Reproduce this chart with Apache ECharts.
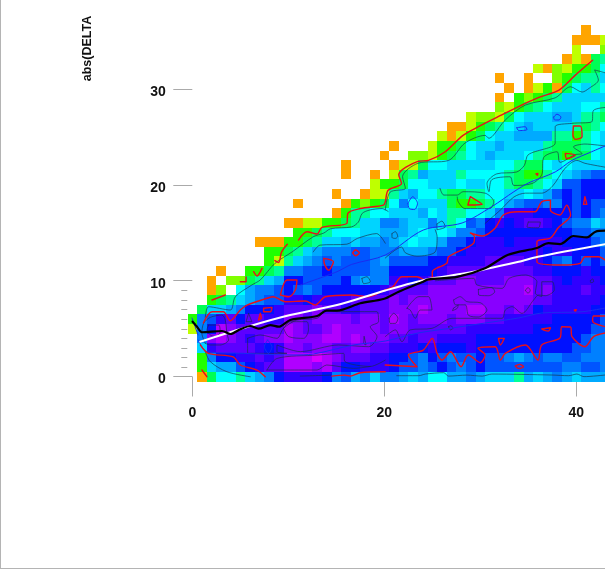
<!DOCTYPE html>
<html><head><meta charset="utf-8">
<style>html,body{margin:0;padding:0;background:#fff}
#frame{position:absolute;left:0;top:0;width:604px;height:568px;border-left:1px solid #b4b4b4;border-bottom:1px solid #b4b4b4}
#chart{position:absolute;left:0;top:0;width:605px;height:569px}</style>
<script src="https://cdn.jsdelivr.net/npm/echarts@6/dist/echarts.min.js"></script>
</head><body><div id="frame"></div><div id="chart"></div>
<script>
const yAxisTitle = "abs(DELTA";
const minorYTicks = [1,2,3,4,5,6,7,8,9];
// first column held by each row of cells
const rowStartColumn = [1,1,1,1,1,0,0,1,2,2,2,3,8,8,7,11,10,15,11,15,19,16,16,20,21,26,27,29,32,32,33,32,36,39,40,40,41];
// density level of each cell, bottom row first (0 = empty cell)
const heatRows = [
[1,5,7,7,6,8,9,10,12,13,13,13,13,12,10,11,9,10,8,10,10,9,8,9,7,7,9,9,10,9,8,8,8,6,9,8,9,10,9,8,9,9,9],
[4,8,9,9,11,12,13,14,14,16,16,16,15,16,14,12,12,13,13,13,12,11,11,10,11,12,11,10,11,12,11,11,11,11,11,11,11,11,10,10,11,11,10],
[4,10,12,12,13,13,14,13,14,16,16,16,17,16,15,14,14,14,13,13,12,12,11,10,12,11,10,11,11,12,11,11,10,9,10,11,10,10,11,11,10,10,10],
[8,13,14,14,14,14,13,12,13,15,15,14,15,15,14,14,15,15,14,14,13,13,13,12,13,12,12,12,13,12,12,12,12,12,12,12,12,12,12,11,11,10,10],
[10,15,16,15,14,13,14,15,15,16,15,15,15,16,16,15,16,15,15,15,14,14,13,14,14,13,13,13,13,12,12,12,12,12,12,12,12,12,12,12,11,10,10],
[2,10,12,16,15,14,14,14,14,14,16,15,14,14,15,16,15,15,15,15,14,15,15,14,14,14,14,14,14,13,13,13,13,13,13,13,12,12,12,12,12,12,11,11],
[4,10,11,13,14,12,14,14,13,13,15,15,14,15,15,15,15,14,15,15,14,16,15,14,15,15,15,14,15,15,15,14,14,13,13,13,13,13,12,12,12,12,12,11],
[5,8,8,9,10,12,12,12,13,14,14,14,15,14,14,13,13,14,14,14,15,15,15,16,15,15,15,15,16,16,15,15,14,15,14,12,13,13,13,13,13,12,12],
[4,5,6,8,9,10,11,11,13,13,12,13,13,13,13,14,14,14,14,15,14,15,15,15,15,15,15,15,15,15,15,15,15,15,14,14,13,13,13,13,13,12],
[1,3,0,7,9,10,10,11,12,11,10,11,12,12,12,12,12,12,13,14,14,14,14,15,15,15,15,15,15,15,15,15,15,16,14,15,13,13,13,14,13,13],
[1,0,3,3,5,6,8,9,12,12,11,11,11,11,12,10,9,10,10,13,13,12,13,14,14,14,15,15,14,14,14,15,15,15,14,14,13,12,13,13,13,12],
[1,0,0,4,4,5,6,10,10,11,11,12,11,11,11,11,10,10,12,12,12,12,12,13,14,14,14,14,14,14,14,14,14,13,13,12,12,12,13,12,12],
[4,2,6,8,9,10,11,10,11,11,11,10,9,11,11,11,11,12,12,13,13,13,13,14,14,14,14,13,13,12,11,10,12,11,12,11],
[4,4,5,6,8,9,10,10,10,11,11,10,10,10,9,9,9,10,11,11,12,13,13,13,13,13,13,13,13,12,13,13,12,12,12,11],
[1,1,1,4,4,5,6,8,8,9,8,9,9,10,9,8,7,8,8,9,11,11,12,13,13,13,12,13,13,13,13,13,12,12,12,11,10],
[4,4,5,6,7,7,7,8,8,9,9,9,8,7,8,7,8,10,10,11,12,12,12,12,12,12,12,12,12,11,11,10,10],
[1,1,2,2,4,4,5,6,8,8,10,10,9,8,8,10,8,6,7,11,10,12,13,12,13,14,14,13,12,11,10,10,8,9],
[1,4,6,6,7,7,8,8,8,9,7,8,6,6,7,7,8,10,13,13,13,12,12,12,12,11,12,11,10],
[1,0,0,0,0,1,4,3,4,5,7,10,7,8,8,8,5,4,4,5,6,7,9,10,11,11,10,10,12,11,12,11,11],
[1,0,0,1,2,2,6,8,9,7,7,6,5,5,6,6,7,7,8,8,7,8,9,11,12,11,12,12,12],
[2,4,4,5,7,7,8,8,8,7,8,8,7,7,6,5,5,6,7,8,11,11,12,12,12],
[1,0,0,1,0,2,5,6,9,8,8,8,6,7,7,7,7,6,5,4,4,6,7,8,9,10,11,11],
[1,0,0,0,0,1,2,2,5,7,7,8,8,8,8,8,7,7,6,5,5,7,8,7,8,8,8,8],
[1,0,0,3,3,2,4,5,6,7,8,9,8,8,8,7,6,5,5,4,5,5,7,8],
[1,0,0,0,2,4,4,5,7,8,8,9,8,8,8,8,6,5,5,5,6,7,8],
[2,1,2,4,5,7,8,8,9,9,9,9,6,6,4,6,7,8],
[1,1,2,4,5,6,7,8,9,8,8,8,8,6,5,6,7],
[2,3,3,2,5,7,8,8,8,9,9,8,6,6,5],
[3,2,4,5,6,7,8,8,8,7,7,6],
[1,0,4,3,4,5,6,8,8,8,8,8],
[1,0,1,2,4,1,5,7,8,6,7],
[1,0,0,1,0,0,3,4,5,6,6,8],
[2,1,3,2,4,4,5,7],
[1,2,1,5,6],
[2,0,0,3],
[1,1,1,2],
[1]
];
const blackCurve = [[0.03,5.85],[0.49,5.33],[1,4.75],[3.1,4.88],[3.96,4.57],[5,5.06],[6.04,5.4],[6.9,5.12],[8.13,5.5],[9,5.33],[10.2,6.02],[13,6.44],[14,6.99],[15.07,6.99],[17.5,7.76],[19.9,8.2],[21.5,8.96],[23.9,9.94],[24.6,10.25],[27.6,10.5],[30.5,11.4],[32.9,12.8],[35.9,13.5],[37.1,14],[38.3,13.9],[39.7,14.75],[41.1,14.6],[42,15.2],[43,15.3]];
const whiteCurve = [[0.83,3.77],[6.04,5.4],[10.2,6.54],[15.07,7.58],[20.1,9.09],[24.6,10.28],[28.4,10.87],[34,12.08],[36,12.6],[43,13.9]];
const blueCurves = [
[[11.25,9.66],[15.07,11.04],[16.6,11.8],[20.1,12.77],[24.06,15.37],[28.1,16.1],[31.2,17.8],[33.5,19.35],[35,20.25],[37.8,21.4],[39.55,22.6],[41.6,23.5],[43,24.1]],
[[0.63,3.95],[1.53,2.73],[5.35,2.56],[10.5,2.39],[12.6,2.49],[16.8,3.43],[20.1,3.84],[23.5,4.67],[27.05,5.19],[30.5,5.71],[33.96,6.23],[36.4,6.75],[40.6,6.88],[43,7.27]],
[[-0.03,6.23],[0.6,4.47]],
[[22.47,18.14],[22.95,18.83],[23.46,18.14],[23.15,17.5],[22.6,17.6],[22.47,18.14]],
[[37.64,27.1],[37.98,27.4],[38.4,27.1],[38.2,26.8],[37.74,26.8],[37.64,27.1]],
[[33.8,26],[34.68,26.1],[34.86,25.8],[34,25.7],[33.8,26]],
[[7.84,3.95],[8.3,3.25],[7.95,2.56],[7.5,3.25],[7.84,3.95]]
];
const redCurves = [
[[11.06,14.33],[11.95,15.19],[12.99,14.95],[13.5,15.65],[16.1,16.06],[16.2,17.1],[17.5,17.6],[19.9,17.96],[20.1,18.3],[20.4,19.5],[21.8,20.2],[21.5,21.1],[23.5,22.5],[24.6,22.6],[26.35,23.5],[28.2,25.2],[29.8,26.1],[32.6,27.5],[34.3,28.35],[36.1,29.15],[38.2,29.9],[39.9,31.46],[41.7,33]],
[[1.15,5.71],[2.05,6.88],[3.23,6.88],[3.96,5.95],[5,7.06],[5.7,7.58],[7.78,8.28],[8.44,8.44],[9.69,7.92],[11.77,8],[12.8,7.58],[13.85,8.44],[16.6,8.62],[18.3,8.44],[20.1,9.14],[20.9,9.48],[21.84,10.52],[23.4,10.52],[24.3,10.18],[25,10.28],[25,11.04],[26.5,11.91],[26.7,12.6],[29.3,13.99],[29.4,14.64],[28.96,15.06],[30.2,14.75],[31.56,15.58],[32.4,16.93],[33.96,17.27],[35.7,17.27],[36.4,18.31],[37.3,18.48],[37.3,17.45],[38.3,16.93],[39,17.96],[39.4,16.93],[38.1,15.58],[37.3,14.54],[35.9,14.15],[35.9,12.08],[38.5,11.73],[40.4,11.91],[40.9,12.6],[42.3,12.6],[43,12.25]],
[[0.83,3.43],[1.67,2.56],[4.27,2.2],[5,1.35],[6.74,0.83],[7.6,0.13]],
[[14.55,0.2],[15.9,0.3],[16.46,0.2],[17.5,0.55],[20.1,0.65]],
[[20.1,1.35],[23.4,1.17],[22.5,2.39],[24.06,2.9],[25,4.12],[25.5,2.56],[26,1.87],[26.9,2.73],[28,1.17],[28.75,2.39],[30,1.59],[30.5,2.39],[29.76,3.08],[31.56,3.25],[32.1,1.87],[32.6,2.56],[34.7,3.43],[36,1.87],[36.4,3.43],[38.3,4.15],[38.5,5.33],[39.4,5.3],[39.55,4.29],[40.9,3.25],[41.8,4.29],[43,4.67]],
[[13.7,12.43],[14.7,12.08],[14.2,11.2],[13.75,11.9],[13.7,12.43]],
[[9.17,8.62],[9.86,10.18],[10.9,10.18],[10.73,9.14],[10.03,8.44],[9.17,8.62]],
[[7.43,7.24],[8.3,7.34],[8.13,6.88],[7.43,6.88],[7.43,7.24]],
[[7.08,6.72],[6.9,6.02],[7.2,6.23],[7.08,6.72]],
[[16.7,13],[17,13.3],[17.4,13],[17,12.7],[16.7,13]],
[[8.6,12.2],[9,12],[9.3,13.1],[9.9,13.9]],
[[5,10],[5.6,10],[5.6,10.5]],
[[6.39,11.04],[6.74,10.6],[7.26,11.39]],
[[2.05,8.1],[3.44,8.62]],
[[1,0.83],[1.53,0.13]],
[[31.9,4.12],[32.5,4.12],[32.1,3.43],[31.9,4.12]],
[[36.4,5.09],[37.3,5.22],[37.1,4.88],[36.6,4.98],[36.4,5.09]],
[[33.65,1.25],[34.1,1.42],[34.5,1.17],[34,1],[33.65,1.25]],
[[39.8,7.06],[40,7.1],[39.9,6.95],[39.8,7.06]],
[[43,6.44],[41.8,6.44],[41.7,5.9],[43,5.33]],
[[28.96,18.83],[30.2,18.03],[28.7,17.97],[28.96,18.83]],
[[39.7,26.17],[40.4,26.17],[40.6,25.06],[39.9,24.79],[39.65,25.24],[39.7,26.17]],
[[38.85,23.33],[39.9,23.16],[39,22.8],[38.85,23.33]],
[[40.9,18.83],[41.1,18.03],[40.75,18.03],[40.9,18.83]],
[[35.8,21.2],[36,21.25],[35.95,21.05],[35.8,21.2]]
];
const darkCurves = [
[[20.1,17.45],[20.6,19.3],[22.2,19.7],[21.9,20.9],[23.5,22.3],[26.7,22.6],[28.4,24.4],[30.5,25.2],[30.9,24.9],[31.35,25.2],[32.6,26.8],[34.7,28.35],[37.8,29.1],[39.4,30.25],[40.6,29.7],[41.35,30.1],[42.3,30.95],[41.9,32],[43,31.7]],
[[6.04,0.13],[3.6,0.65],[1.88,1.69],[1.35,2.73]],
[[1.35,6.3],[1.7,7.4],[3.96,7.06],[4.48,8.44],[6.2,9.66],[7.1,10.2],[8.6,11.9],[10.4,13.1],[12.6,14.67],[13.7,15.06],[14.4,15.5],[16.6,15.7],[17.3,16.2],[17.7,17.1],[18.5,17.45],[19.76,17.6],[20.4,17.3]],
[[12.6,13.1],[13.3,13.8],[16.1,13.9],[17.2,14.5],[19.2,15],[20.1,14]],
[[20.1,12.46],[21.8,13.6],[22.2,13],[23.4,12.66],[25.3,13.1],[25.5,14.7],[25.3,15.4]],
[[25.8,19.7],[26.2,19],[27.6,19],[28.2,19.35],[30.5,19.2],[31.4,18.3],[31,17.6],[28.4,17.6],[27.7,18.3],[27.6,18.8]],
[[43,28.1],[41.8,27.8],[41.6,26.6],[39.55,26.45],[37.8,26.1],[37.8,24.4],[35,23.2],[34.6,22.1],[33.8,21.4],[31.7,21.2],[30.7,20.2],[30.9,19.35],[31.2,20.6],[33.1,20.9],[33.5,20],[35.4,20.2],[36.4,21.1],[36.6,22.9],[38,23.5],[38.3,22.4],[39.9,23.2],[40.6,23.3],[39.7,24],[40.9,24.3],[43,24.1]],
[[30.5,16.06],[32.1,17.45],[33.5,18.8],[34.7,19.2],[36.4,19.2],[37.5,19.9],[38.85,21.8],[40.06,22.6],[40.9,22.3],[43,21.9]],
[[1.35,3.6],[1,4.64],[1.18,5.68],[1.88,6.3],[3.1,6.54],[3.44,6],[3.6,4.64],[3.78,3.95],[2.9,3.43],[1.88,3.43],[1.35,3.6]],
[[1.7,5.5],[2.74,5.5],[2.9,4.8],[2.4,4.3],[1.88,4.47],[1.53,4.98],[1.7,5.5]],
[[5.87,6.72],[6.2,5.85],[5.6,5.85],[5.87,6.72]],
[[5.76,4.12],[7.08,4.47],[8.82,4.12],[9.5,5.16],[10.9,6.02],[12.99,6.2],[14.03,7.06],[15.07,6.89],[19.24,6.89],[19.4,5.85],[18.54,5.33],[19.24,4.3],[18.37,3.25],[15.24,3.43],[11.25,2.74],[8.82,3.43],[8.82,2.74],[9.86,2.56],[5.76,2.56],[5.76,4.12]],
[[9.5,5.16],[10.2,5.85],[11.94,5.85],[12.1,5],[11.6,4.12],[10.03,4.3],[9.5,5.16]],
[[17.9,4.3],[18.1,3.43],[17.85,3.6],[17.9,4.3]],
[[7.78,0.83],[8.82,2.03],[12.99,2.38],[15.76,2.56],[15.9,1.7],[18.54,1.2],[20.1,1.86]],
[[7.78,0.83],[12.99,0.83],[14,1.35],[16.8,1],[18.54,1.2]],
[[11.25,0.2],[14.4,0.3]],
[[21.3,0.24],[23.6,0.24],[24.27,0.41],[26.18,0.55],[26.7,0.2],[28.6,0.3],[30.2,0.2],[31.2,0.41],[37.46,0.31],[39.2,0.24],[40.06,0.41],[40.8,0.14],[43,0.31]],
[[25.31,10.1],[29.3,10.35],[29.65,9.66],[32.26,9.31],[33,10.35],[34.7,10.7],[35.9,10],[35.73,8.8],[36.4,8.45],[36.4,10],[37.5,10],[37.7,9.14],[36.77,8.55],[36.07,8.62],[35.55,8.1],[34.34,6.71],[33.3,7.41],[32.6,7.06],[32.26,6.2],[27.05,6.2],[24.97,5.16],[22.7,5],[21.84,3.77],[21.15,5],[20.1,4.3]],
[[22.36,7.24],[23.6,8.45],[24.6,8.45],[24.97,7.06],[23.75,7.06],[23.23,6.2],[22.7,7.06],[22.36,7.24]],
[[27.22,8.1],[27.9,8.45],[28.6,7.93],[29.99,7.82],[30.69,7.06],[29.8,6.34],[28.78,6.5],[28.44,7.6],[27.4,7.6],[27.22,8.1]],
[[29.8,9.2],[31.2,9.4],[31.5,8.96],[30.87,8.55],[29.83,8.62],[29.8,9.2]],
[[27.2,7.24],[27.7,7.6],[27.6,7.24],[27.1,7],[27.2,7.24]],
[[20.52,6.2],[20.97,6.72],[21.42,6.2],[21.15,5.67],[20.6,5.67],[20.52,6.2]],
[[34.7,9.1],[34.97,9.4],[35.2,9.1],[34.97,8.8],[34.7,9.1]],
[[26.7,5.33],[26.94,5.43],[27.15,5.16],[26.87,5],[26.7,5.33]],
[[41.47,10.1],[41.7,10.3],[41.8,10],[41.5,9.9],[41.47,10.1]],
[[20.8,15],[21.15,15.2],[21.4,14.7],[21.15,14.5],[20.8,14.6],[20.8,15]],
[[17.67,10.35],[18.2,10.52],[18.54,10],[17.85,9.8],[17.67,10.35]],
[[35,16.2],[36.25,16.2],[36.07,15.6],[34.86,15.7],[35,16.2]],
[[25.49,16],[26,16.3],[26.35,15.7],[25.49,15.4],[25.49,16]]
];

const levelColors = ['#ffffff','#ffa500','#bfff00','#80ff00','#20ff00','#00ff55','#00ff99','#00ffff','#00d4ff','#00aaff','#0080ff','#0055ff','#0011ff','#3000ff','#5c00ff','#8800ff','#b000ff','#d800ff'];
const rowBottom = -0.543, rowHeight = 1.0054;     // bin edges on the y axis
const readY = y => y * 1.005 - 0.157;             // curves were read against the bin grid

const cells = [];
heatRows.forEach((vals, r) => vals.forEach((v, i) => { if (v > 0) cells.push([rowStartColumn[r] + i, r, v]); }));

const font = '"Liberation Sans", Arial, sans-serif';
const chart = echarts.init(document.getElementById('chart'), null, {renderer:'canvas'});
const lineSeries = (curves, color, width, z) => curves.map(c => ({
  type:'line', data:c.map(p => [p[0], readY(p[1])]), showSymbol:false, symbol:'none', clip:false, silent:true, z:z,
  smooth:0.3, lineStyle:{color:color, width:width, join:'round', cap:'round'}
}));
chart.setOption({
  animation:false,
  backgroundColor:'transparent',
  grid:{left:192.3, top:-6.7, width:576, height:383.2, containLabel:false, outerBoundsMode:'none'},
  xAxis:{type:'value', min:0, max:60, interval:20, offset:4.5, splitLine:{show:false}, axisLine:{show:false},
    axisTick:{length:20, lineStyle:{color:'#aaa', width:1}},
    axisLabel:{margin:25, fontFamily:font, fontWeight:'bold', fontSize:14, color:'#111', hideOverlap:false}},
  yAxis:{type:'value', min:0, max:40, interval:10, offset:4.5, splitLine:{show:false}, axisLine:{show:false},
    axisTick:{length:19, lineStyle:{color:'#aaa', width:1}},
    axisLabel:{margin:22, fontFamily:font, fontWeight:'bold', fontSize:14, color:'#111', verticalAlign:'top', lineHeight:6}},
  graphic:[{type:'text', x:88, y:48.5, rotation:Math.PI/2, style:{text:yAxisTitle, align:'center', verticalAlign:'middle', font:'bold 12.5px '+font, fill:'#111'}}],
  series:[
    {type:'custom', clip:false, silent:true, z:1, encode:{x:0,y:1}, data:cells,
     renderItem:(p,api)=>{
       const c=api.value(0), r=api.value(1);
       const a=api.coord([c-0.5,rowBottom+rowHeight*(r+1)]), b=api.coord([c+0.5,rowBottom+rowHeight*r]);
       const x0=Math.round(a[0]), y0=Math.round(a[1]), x1=Math.round(b[0]), y1=Math.round(b[1]);
       return {type:'rect', shape:{x:x0,y:y0,width:x1-x0,height:y1-y0}, style:{fill:levelColors[api.value(2)]}};
     }},
    {type:'custom', clip:false, silent:true, z:1, encode:{x:0,y:1}, data:minorYTicks.map(v=>[0,v]),
     renderItem:(p,api)=>{
       const q=api.coord([api.value(0),api.value(1)]);
       const y=Math.round(q[1])+0.5;
       return {type:'line', shape:{x1:q[0]-11,y1:y,x2:q[0]-5,y2:y}, style:{stroke:'#aaa',lineWidth:1}};
     }},
    ...lineSeries(darkCurves,'rgba(25,45,70,0.65)',1,2),
    ...lineSeries(blueCurves,'#1a2cf0',1,3),
    ...lineSeries(redCurves,'#e8101a',1.4,4),
    ...lineSeries([whiteCurve],'#ffffff',2,5),
    ...lineSeries([blackCurve],'#000000',2.2,6)
  ]
});
</script></body></html>
